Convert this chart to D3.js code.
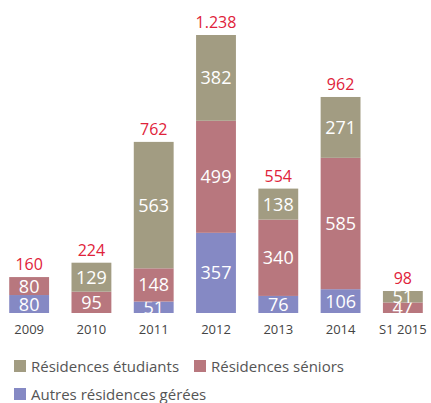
<!DOCTYPE html>
<html>
<head>
<meta charset="utf-8">
<script src="https://cdn.jsdelivr.net/npm/d3@7"></script>
<style>
  body { margin: 0; background: #fff; }
  text { font-family: "Open Sans", sans-serif; }
</style>
</head>
<body>
<div id="chart"></div>
<script>
var categories = ["2009", "2010", "2011", "2012", "2013", "2014", "S1 2015"];
var autres = [80, 0, 51, 357, 76, 106, 0];
var seniors = [80, 95, 148, 499, 340, 585, 47];
var etudiants = [0, 129, 563, 382, 138, 271, 51];
var totals = ["160", "224", "762", "1.238", "554", "962", "98"];

var seriesNames = ["Autres résidences gérées", "Résidences séniors", "Résidences étudiants"];
var colors = {"Autres résidences gérées": "#8589c4", "Résidences séniors": "#b8777e", "Résidences étudiants": "#a29c82"};

var width = 431, height = 403;
var svg = d3.select("#chart").append("svg")
    .attr("width", width)
    .attr("height", height);

var rows = categories.map(function(c, i) {
  return {cat: c, "Autres résidences gérées": autres[i], "Résidences séniors": seniors[i], "Résidences étudiants": etudiants[i], total: totals[i]};
});

var x = d3.scaleBand().domain(categories).range([-2, 434]).paddingInner(0.36).paddingOuter(0.18);
var y = d3.scaleLinear().domain([0, 1238]).range([313, 35]);

var stack = d3.stack().keys(seriesNames)(rows);

var g = svg.append("g");
stack.forEach(function(layer) {
  var lg = g.append("g");
  lg.selectAll("rect").data(layer.filter(function(d) { return d[1] > d[0]; }))
    .enter().append("rect")
    .attr("x", function(d) { return x(d.data.cat); })
    .attr("width", x.bandwidth())
    .attr("y", function(d) { return y(d[1]); })
    .attr("height", function(d) { return y(d[0]) - y(d[1]); })
    .attr("fill", colors[layer.key]);
  lg.selectAll("text").data(layer.filter(function(d) { return d[1] > d[0]; }))
    .enter().append("text")
    .attr("x", function(d) { return x(d.data.cat) + x.bandwidth() / 2; })
    .attr("y", function(d) { return (y(d[0]) + y(d[1])) / 2 + 6.5; })
    .attr("text-anchor", "middle")
    .attr("fill", "#fff")
    .style("font-size", "18px")
    .text(function(d) { return d[1] - d[0]; });
});

// totals
g.selectAll(".total").data(rows).enter().append("text")
  .attr("class", "total")
  .attr("x", function(d) { return x(d.cat) + x.bandwidth() / 2; })
  .attr("y", function(d) { return y(d["Autres résidences gérées"] + d["Résidences séniors"] + d["Résidences étudiants"]) - 7; })
  .attr("text-anchor", "middle")
  .attr("fill", "#e0223a")
  .style("font-size", "16px")
  .text(function(d) { return d.total; });

// x axis labels
var xAxis = svg.append("g")
  .attr("transform", "translate(0,313)")
  .call(d3.axisBottom(x).tickSize(0).tickPadding(12));
xAxis.select(".domain").remove();
xAxis.selectAll("text")
  .attr("fill", "#444")
  .style("font-size", "13px")
  .style("font-family", "Open Sans, sans-serif");

// legend
var legendItems = [
  {name: "Résidences étudiants", x: 14, y: 360},
  {name: "Résidences séniors", x: 194, y: 360},
  {name: "Autres résidences gérées", x: 14, y: 388}
];
var lg = svg.append("g").selectAll("g").data(legendItems).enter().append("g")
  .attr("transform", function(d) { return "translate(" + d.x + "," + d.y + ")"; });
lg.append("rect").attr("width", 12).attr("height", 12)
  .attr("fill", function(d) { return colors[d.name]; });
lg.append("text").attr("x", 17).attr("y", 12)
  .attr("fill", "#555")
  .style("font-size", "15px")
  .text(function(d) { return d.name; });
</script>
</body>
</html>
